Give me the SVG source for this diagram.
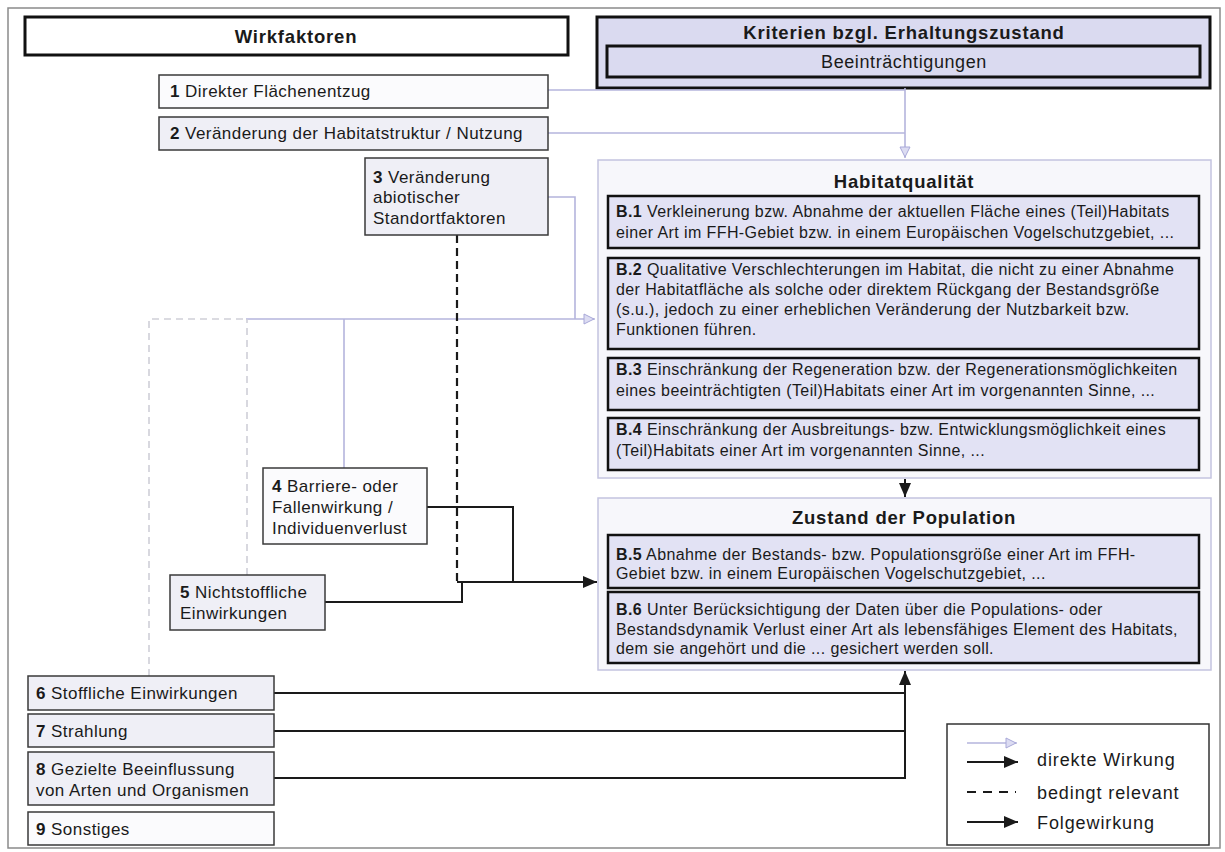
<svg xmlns="http://www.w3.org/2000/svg" width="1225" height="852" viewBox="0 0 1225 852">
<style>
text{font-family:"Liberation Sans",Arial,Helvetica,sans-serif;fill:#1a1a1a}
.ttl{font-size:18.5px;font-weight:bold;letter-spacing:0.8px;text-anchor:middle}
.sub{font-size:18px;letter-spacing:0.6px;text-anchor:middle}
.tx{font-size:17px;letter-spacing:0.45px}
.bt{font-size:16px;letter-spacing:0.4px}
.lt{font-size:18px;letter-spacing:0.9px}
.frame{fill:#fff;stroke:#8a8a8a;stroke-width:1.5}
.hdr{fill:#fff;stroke:#111;stroke-width:3}
.hdrL{fill:#dadaf0;stroke:#111;stroke-width:3}
.wf{fill:#efeff6;stroke:#3a3a3a;stroke-width:1.5}
.wfw{fill:#fbfbfd;stroke:#3a3a3a;stroke-width:1.5}
.grp{fill:#f7f7fb;stroke:#c4c4e0;stroke-width:1.5}
.bx{fill:#e2e2f4;stroke:#111;stroke-width:2.5}
.lg{fill:#fff;stroke:#333;stroke-width:1.5}
.lav{stroke:#b4b4dc;stroke-width:1.6;fill:none}
.blk{stroke:#1a1a1a;stroke-width:2;fill:none}
.dsh{stroke:#1a1a1a;stroke-width:2.2;stroke-dasharray:8 5;fill:none}
.gd{stroke:#cfcfd8;stroke-width:1.6;stroke-dasharray:7 5;fill:none}
</style>
<defs>
<marker id="ah" viewBox="0 0 14 12" refX="14" refY="6" markerWidth="14" markerHeight="12" markerUnits="userSpaceOnUse" orient="auto"><path d="M0,0 L14,6 L0,12 z" fill="#1a1a1a"/></marker>
<marker id="al" viewBox="0 0 12 12" refX="12" refY="6" markerWidth="12" markerHeight="12" markerUnits="userSpaceOnUse" orient="auto"><path d="M1,1 L11,6 L1,11 z" fill="#dcdcf2" stroke="#a8a8d8" stroke-width="1"/></marker>
</defs>
<rect x="8" y="8" width="1212" height="840" class="frame"/>

<g id="hdr-wirkfaktoren"><rect x="25" y="17" width="543" height="38" class="hdr"/><text x="296" y="43" class="ttl">Wirkfaktoren</text></g>
<g id="hdr-kriterien"><rect x="597" y="17" width="613" height="71" class="hdrL"/><text x="904" y="39" class="ttl">Kriterien bzgl. Erhaltungszustand</text>
<g id="beeintraechtigungen"><rect x="607" y="46" width="593" height="31" class="hdrL" stroke-width="2.5"/><text x="904" y="68" class="sub">Beeinträchtigungen</text></g></g>

<g id="connectors">
<path d="M548,90 H905" class="lav"/>
<path d="M548,133 H905" class="lav"/>
<path d="M905,88 V158" class="lav" marker-end="url(#al)"/>
<path d="M548,197 H575 V319" class="lav"/>
<path d="M246,319 H595" class="lav" marker-end="url(#al)"/>
<path d="M344,468 V319" class="lav"/>
<path d="M149,676 V319 H246" class="gd"/>
<path d="M247,575 V319" class="gd"/>
<path d="M457,235 V582" class="dsh"/>
<path d="M427,507 H513 V582" class="blk"/>
<path d="M325,602 H462 V582" class="blk"/>
<path d="M457,582 H597" class="blk" marker-end="url(#ah)"/>
<path d="M905,479 V497" class="blk" marker-end="url(#ah)"/>
<path d="M274,693 H905" class="blk"/>
<path d="M274,731 H905" class="blk"/>
<path d="M274,778 H905 V671" class="blk" marker-end="url(#ah)"/>
</g>

<g id="wf1"><rect x="159" y="75" width="389" height="33" class="wfw"/><text x="170" y="97" class="tx"><tspan font-weight="bold">1</tspan> Direkter Flächenentzug</text></g>
<g id="wf2"><rect x="159" y="117" width="389" height="33" class="wf"/><text x="170" y="139" class="tx"><tspan font-weight="bold">2</tspan> Veränderung der Habitatstruktur / Nutzung</text></g>
<g id="wf3"><rect x="365" y="158" width="183" height="77" class="wf"/><text x="373" y="183" class="tx"><tspan font-weight="bold">3</tspan> Veränderung</text><text x="373" y="203" class="tx">abiotischer</text><text x="373" y="224" class="tx">Standortfaktoren</text></g>
<g id="wf4"><rect x="263" y="468" width="164" height="76" class="wfw"/><text x="272" y="492" class="tx"><tspan font-weight="bold">4</tspan> Barriere- oder</text><text x="272" y="513" class="tx">Fallenwirkung /</text><text x="272" y="534" class="tx">Individuenverlust</text></g>
<g id="wf5"><rect x="170" y="575" width="155" height="55" class="wf"/><text x="180" y="598" class="tx"><tspan font-weight="bold">5</tspan> Nichtstoffliche</text><text x="180" y="619" class="tx">Einwirkungen</text></g>
<g id="wf6"><rect x="28" y="676" width="246" height="34" class="wf"/><text x="36" y="699" class="tx"><tspan font-weight="bold">6</tspan> Stoffliche Einwirkungen</text></g>
<g id="wf7"><rect x="28" y="714" width="246" height="33" class="wf"/><text x="36" y="737" class="tx"><tspan font-weight="bold">7</tspan> Strahlung</text></g>
<g id="wf8"><rect x="28" y="752" width="246" height="53" class="wf"/><text x="36" y="775" class="tx"><tspan font-weight="bold">8</tspan> Gezielte Beeinflussung</text><text x="36" y="796" class="tx">von Arten und Organismen</text></g>
<g id="wf9"><rect x="28" y="812" width="246" height="33" class="wfw"/><text x="36" y="835" class="tx"><tspan font-weight="bold">9</tspan> Sonstiges</text></g>

<g id="habitatqualitaet"><rect x="598" y="160" width="613" height="318" class="grp"/><text x="904" y="188" class="ttl">Habitatqualität</text>
<g id="b1"><rect x="608" y="196" width="591" height="52" class="bx"/><text x="616" y="217" class="bt"><tspan font-weight="bold">B.1</tspan> Verkleinerung bzw. Abnahme der aktuellen Fläche eines (Teil)Habitats</text><text x="616" y="238" class="bt">einer Art im FFH-Gebiet bzw. in einem Europäischen Vogelschutzgebiet, ...</text></g>
<g id="b2"><rect x="608" y="258" width="591" height="91" class="bx"/><text x="616" y="275" class="bt"><tspan font-weight="bold">B.2</tspan> Qualitative Verschlechterungen im Habitat, die nicht zu einer Abnahme</text><text x="616" y="295" class="bt">der Habitatfläche als solche oder direktem Rückgang der Bestandsgröße</text><text x="616" y="315" class="bt">(s.u.), jedoch zu einer erheblichen Veränderung der Nutzbarkeit bzw.</text><text x="616" y="335" class="bt">Funktionen führen.</text></g>
<g id="b3"><rect x="608" y="358" width="591" height="52" class="bx"/><text x="616" y="375" class="bt"><tspan font-weight="bold">B.3</tspan> Einschränkung der Regeneration bzw. der Regenerationsmöglichkeiten</text><text x="616" y="396" class="bt">eines beeinträchtigten (Teil)Habitats einer Art im vorgenannten Sinne, ...</text></g>
<g id="b4"><rect x="608" y="418" width="591" height="52" class="bx"/><text x="616" y="435" class="bt"><tspan font-weight="bold">B.4</tspan> Einschränkung der Ausbreitungs- bzw. Entwicklungsmöglichkeit eines</text><text x="616" y="456" class="bt">(Teil)Habitats einer Art im vorgenannten Sinne, ...</text></g>
</g>

<g id="zustand-population"><rect x="598" y="498" width="613" height="172" class="grp"/><text x="904" y="524" class="ttl">Zustand der Population</text>
<g id="b5"><rect x="608" y="535" width="591" height="53" class="bx"/><text x="616" y="560" class="bt"><tspan font-weight="bold">B.5</tspan> Abnahme der Bestands- bzw. Populationsgröße einer Art im FFH-</text><text x="616" y="579" class="bt">Gebiet bzw. in einem Europäischen Vogelschutzgebiet, ...</text></g>
<g id="b6"><rect x="608" y="592" width="591" height="71" class="bx"/><text x="616" y="615" class="bt"><tspan font-weight="bold">B.6</tspan> Unter Berücksichtigung der Daten über die Populations- oder</text><text x="616" y="635" class="bt">Bestandsdynamik Verlust einer Art als lebensfähiges Element des Habitats,</text><text x="616" y="654" class="bt">dem sie angehört und die ... gesichert werden soll.</text></g>
</g>

<g id="legend"><rect x="947" y="724" width="262" height="121" class="lg"/>
<path d="M967,743 H1017" class="lav" marker-end="url(#al)"/>
<path d="M967,762 H1018" class="blk" marker-end="url(#ah)"/>
<path d="M967,792 H1016" class="blk" stroke-dasharray="9 7"/>
<path d="M967,822 H1018" class="blk" marker-end="url(#ah)"/>
<text x="1037" y="766" class="lt">direkte Wirkung</text>
<text x="1037" y="799" class="lt">bedingt relevant</text>
<text x="1037" y="829" class="lt">Folgewirkung</text>
</g>
</svg>
